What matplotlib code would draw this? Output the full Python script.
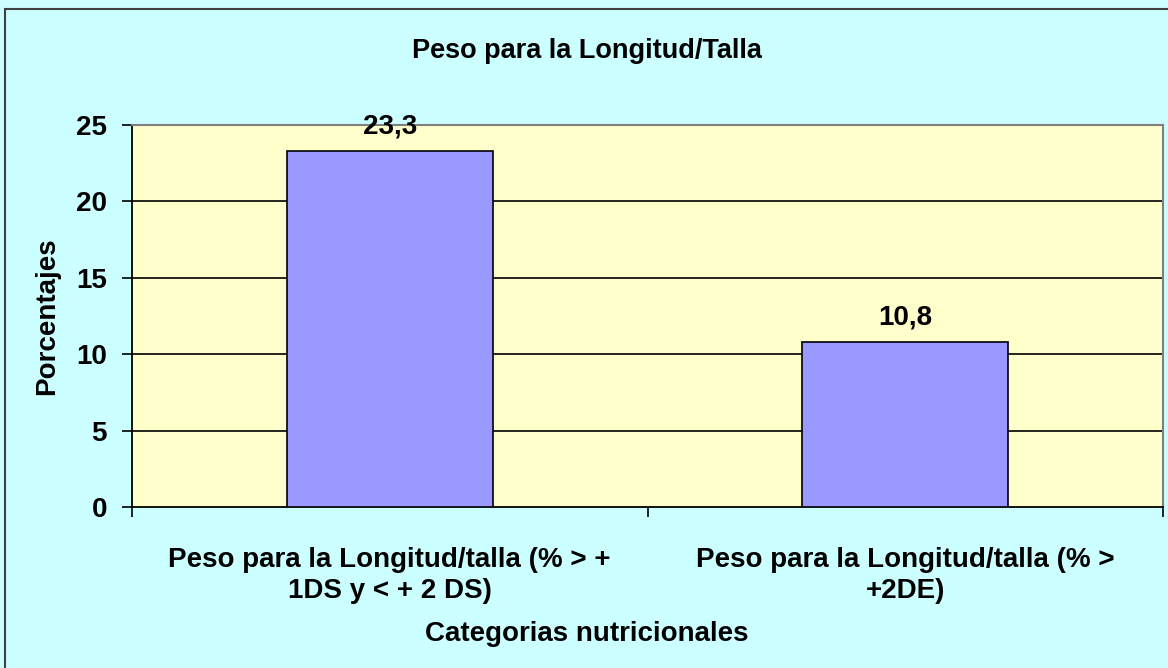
import matplotlib.pyplot as plt
import matplotlib.patches as patches
from matplotlib.ticker import FixedLocator

# datos del grafico
categorias = ["Peso para la Longitud/talla (% > +\n1DS y < + 2 DS)",
              "Peso para la Longitud/talla (% >\n+2DE)"]
porcentajes = [23.3, 10.8]
etiquetas = ["23,3", "10,8"]
yticks = [0, 5, 10, 15, 20, 25]

plt.rcParams['font.family'] = ['Liberation Sans', 'DejaVu Sans']
plt.rcParams['font.weight'] = 'bold'
fs = 20

W, H = 1168, 668
fig = plt.figure(figsize=(W / 100, H / 100), dpi=100)
fig.patch.set_facecolor('#CCFFFF')

# marco exterior (solo se ven los bordes izquierdo y superior)
fig.patches.append(patches.Rectangle((5 / W, -20 / H), 1200 / W, (H - 9 + 20) / H,
                                     transform=fig.transFigure, fill=False,
                                     edgecolor='#404040', linewidth=1.5,
                                     clip_on=False))

ax = fig.add_axes([132 / W, 1 - 507 / H, 1031 / W, 382 / H])
ax.set_facecolor('#FFFFCC')

x = list(range(len(categorias)))
ax.bar(x, porcentajes, width=0.4, color='#9999FF', edgecolor='black',
       linewidth=1.2, zorder=3)
for xi, v, t in zip(x, porcentajes, etiquetas):
    ax.annotate(t, (xi, v), xytext=(0, 8), textcoords='offset points',
                ha='center', va='bottom', fontsize=fs, fontweight='bold',
                zorder=4)

ax.set_xlim(-0.5, 1.5)
ax.set_ylim(0, 25)
ax.set_yticks(yticks)
ax.set_yticklabels([str(t) for t in yticks])
for t in yticks[1:-1]:
    ax.axhline(t, color='black', linewidth=1.2, zorder=1)

ax.xaxis.set_major_locator(FixedLocator([-0.5, 0.5, 1.5]))
ax.set_xticklabels([])
ax.xaxis.set_minor_locator(FixedLocator(x))
ax.set_xticklabels(categorias, minor=True, fontsize=fs, fontweight='bold',
                   linespacing=1.22)
ax.tick_params(axis='x', which='minor', length=0, pad=29)
ax.tick_params(axis='x', which='major', length=7, width=1.2, direction='out')
ax.tick_params(axis='y', length=7, width=1.2, direction='out', pad=11,
               labelsize=fs)

for s in ['left', 'bottom']:
    ax.spines[s].set_color('black')
    ax.spines[s].set_linewidth(1.3)
for s in ['top', 'right']:
    ax.spines[s].set_color('#808080')
    ax.spines[s].set_linewidth(1.5)

ax.set_ylabel("Porcentajes", fontsize=fs, fontweight='bold', va='center')
ax.yaxis.set_label_coords((47 - 132) / 1031, 0.5)
ax.set_xlabel("Categorias nutricionales", fontsize=fs, fontweight='bold',
              va='center')
ax.xaxis.set_label_coords((587 - 132) / 1031, (507 - 634) / 382)

fig.text(587 / W, 1 - 51 / H, "Peso para la Longitud/Talla", ha='center',
         va='center', fontsize=19.5, fontweight='bold')

fig.savefig("out.png", dpi=100, facecolor=fig.get_facecolor())
